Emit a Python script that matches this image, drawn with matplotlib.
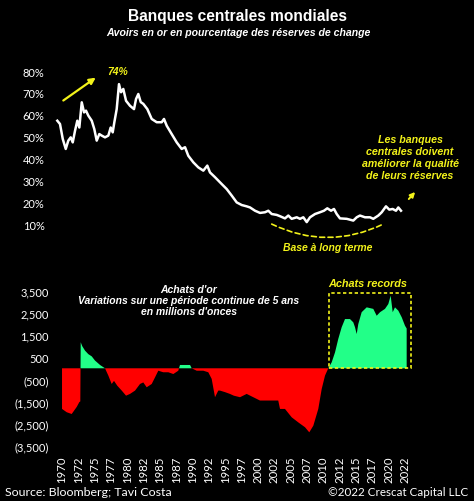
import matplotlib.pyplot as plt
import matplotlib.patches as mpatches

# Avoirs en or en % des réserves de change
gold_years = [1969.28, 1969.69, 1970.11, 1970.57, 1970.96, 1971.33, 1971.64, 1971.99, 1972.34, 1972.65,
              1973.02, 1973.37, 1973.67, 1974.03, 1974.55, 1974.94, 1975.31, 1975.71, 1976.08, 1976.58,
              1977.09, 1977.45, 1977.76, 1978.01, 1978.37, 1978.72, 1979.03, 1979.38, 1979.80, 1980.41,
              1981.02, 1981.33, 1981.68, 1982.05, 1982.44, 1983.06, 1983.73, 1984.50, 1985.26, 1985.61,
              1986.03, 1986.79, 1987.56, 1988.32, 1988.83, 1989.33, 1990.10, 1990.86, 1991.63, 1992.24,
              1992.65, 1993.42, 1994.44, 1995.21, 1995.98, 1996.74, 1997.51, 1998.27, 1998.78, 1999.54,
              2000.31, 2001.07, 2001.58, 2002.10, 2002.86, 2003.37, 2004.13, 2004.64, 2005.16, 2005.93,
              2006.43, 2006.94, 2007.46, 2007.96, 2008.73, 2009.49, 2010.10, 2010.61, 2011.18, 2011.63,
              2012.05, 2012.55, 2013.58, 2014.59, 2015.11, 2015.61, 2016.38, 2017.15, 2017.65, 2018.42,
              2018.94, 2019.59, 2020.10, 2020.62, 2021.12, 2021.48, 2021.89]
gold_pct = [57.3, 55.8, 49.0, 44.4, 48.2, 49.7, 47.4, 52.7, 57.3, 54.2,
            65.7, 61.1, 61.9, 59.6, 57.3, 53.5, 48.2, 51.2, 50.5, 49.7,
            50.5, 54.2, 52.0, 56.6, 62.6, 74.0, 70.3, 71.8, 66.4, 64.1,
            62.6, 67.2, 69.5, 65.8, 65.0, 62.6, 58.1, 56.6, 56.6, 58.1,
            55.0, 51.2, 47.4, 44.4, 45.2, 41.3, 38.3, 36.0, 34.5, 36.8,
            33.7, 31.5, 28.4, 26.1, 23.1, 20.0, 18.8, 18.2, 17.7, 16.2,
            15.2, 15.5, 16.2, 14.7, 14.3, 13.7, 12.7, 14.0, 12.5, 13.2,
            12.5, 13.2, 11.0, 13.2, 14.7, 15.5, 16.2, 17.3, 16.2, 17.0,
            14.7, 12.7, 12.5, 11.7, 13.2, 14.0, 13.2, 13.2, 12.5, 14.0,
            15.5, 18.2, 16.7, 17.0, 16.2, 17.7, 16.2]

# Achats d'or, variation sur 5 ans (millions d'onces)
buy_years = [1970.00, 1970.72, 1971.48, 1972.25, 1972.65, 1972.80, 1972.86, 1973.10, 1973.52, 1974.03,
             1974.55, 1975.05, 1975.82, 1976.58, 1977.09, 1977.60, 1977.96, 1978.46, 1979.14, 1979.80,
             1980.41, 1981.18, 1981.94, 1982.44, 1982.96, 1983.73, 1984.24, 1984.74, 1985.50, 1986.27,
             1987.04, 1987.80, 1988.06, 1989.60, 1989.85, 1990.62, 1991.63, 1992.39, 1992.91, 1993.42,
             1993.92, 1994.18, 1994.95, 1995.70, 1996.30, 1997.25, 1998.27, 1999.28, 2000.30, 2001.84,
             2003.10, 2003.37, 2004.13, 2005.16, 2006.17, 2007.20, 2007.85, 2008.47, 2009.23, 2009.75,
             2010.26, 2010.76, 2011.28, 2011.79, 2012.29, 2012.81, 2013.32, 2014.08, 2014.59, 2014.85,
             2015.11, 2015.35, 2015.87, 2016.64, 2017.65, 2018.17, 2018.68, 2019.44, 2019.95, 2020.31,
             2020.62, 2020.97, 2021.48, 2022.00, 2022.50, 2022.76]
buy_vals = [-1840, -1990, -2070, -1750, -1530, -1500, 1180, 1000, 800, 640,
            540, 350, 150, 0, -330, -710, -570, -790, -1010, -1240,
            -1160, -1010, -710, -640, -860, -710, -410, -110, -180, -180,
            -260, -110, 150, 150, 0, -110, -110, -180, -480, -1310,
            -1010, -1010, -1080, -1160, -1240, -1310, -1160, -1310, -1460, -1460,
            -1460, -1840, -1840, -2220, -2450, -2670, -2900, -2600, -1840, -940,
            -330, 0, 270, 720, 1330, 1860, 2230, 2230, 2080, 1860,
            1550, 2000, 2540, 2760, 2690, 2380, 2540, 2690, 2910, 3290,
            2540, 2760, 2610, 2310, 1930, 1800]

top_ticks = [80, 70, 60, 50, 40, 30, 20, 10]
bottom_ticks = [3500, 2500, 1500, 500, -500, -1500, -2500, -3500]
bottom_labels = ['3,500', '2,500', '1,500', '500', '(500)', '(1,500)', '(2,500)', '(3,500)']
year_ticks = [1970 + 2.5 * i for i in range(22)]

YELLOW = '#f2f21a'
GREEN = '#22ff88'
RED = '#ff0000'
W, H = 474, 502
XLIM = (1968.16, 2024.80)

fig = plt.figure(figsize=(W / 100, H / 100), dpi=100, facecolor='black')

def ax_rect(left, top, right, bottom):
    return [left / W, 1 - bottom / H, (right - left) / W, (bottom - top) / H]

fig.text(238 / W, 1 - 16 / H, 'Banques centrales mondiales', color='white', ha='center', va='center',
         fontsize=11.2, fontweight='bold', family='Liberation Sans')
fig.text(238 / W, 1 - 33 / H, 'Avoirs en or en pourcentage des réserves de change', color='white',
         ha='center', va='center', fontsize=7.6, fontweight='bold', style='italic', family='Liberation Sans')

# graphique du haut
ax1 = fig.add_axes(ax_rect(50, 60, 420, 255), facecolor='black')
ax1.plot(gold_years, gold_pct, color='white', lw=1.8)
ax1.set_xlim(*XLIM)
ax1.set_ylim(-3.56, 85.48)
ax1.set_xticks([])
ax1.set_yticks(top_ticks)
ax1.set_yticklabels([f'{t}%' for t in top_ticks], color='white', fontsize=8, family='Lato')
ax1.tick_params(axis='y', length=0, pad=4)
for s in ax1.spines.values():
    s.set_visible(False)

ann = dict(color=YELLOW, fontweight='bold', style='italic', family='Liberation Sans')
ax1.text(1978.57, 80, '74%', ha='center', va='center', fontsize=7.5, **ann)
ax1.annotate('', xy=(1975.51, 77.7), xytext=(1969.85, 65.8),
             arrowprops=dict(arrowstyle='-|>', color=YELLOW, lw=1.6, mutation_scale=9))
ax1.text(2023.27, 40.7, 'Les banques\ncentrales doivent\naméliorer la qualité\nde leurs réserves',
         ha='center', va='center', fontsize=7.7, linespacing=1.22, **ann)
ax1.annotate('', xy=(2024.34, 25.7), xytext=(2022.8, 20.6),
             arrowprops=dict(arrowstyle='-|>', color=YELLOW, lw=1.4, mutation_scale=7))
ax1.annotate('', xy=(2019.18, 10.1), xytext=(2002.1, 10.1),
             arrowprops=dict(arrowstyle='-', color=YELLOW, lw=1.2, linestyle=(0, (3, 2)),
                             connectionstyle='arc3,rad=0.24', shrinkA=0, shrinkB=0))
ax1.text(2010.72, -0.37, 'Base à long terme', ha='center', va='center', fontsize=7.5, **ann)

# graphique du bas
ax2 = fig.add_axes(ax_rect(50, 280, 420, 455), facecolor='black')
ax2.fill_between(buy_years, buy_vals, 0, where=[v >= 0 for v in buy_vals], interpolate=True,
                 color=GREEN, lw=0)
ax2.fill_between(buy_years, buy_vals, 0, where=[v <= 0 for v in buy_vals], interpolate=True,
                 color=RED, lw=0)
ax2.set_xlim(*XLIM)
ax2.set_ylim(-3881, 4043)
ax2.set_yticks(bottom_ticks)
ax2.set_yticklabels(bottom_labels, color='white', fontsize=8, family='Lato')
ax2.set_xticks(year_ticks)
ax2.set_xticklabels([str(int(y)) for y in year_ticks], rotation=90, color='white', fontsize=8.2,
                    family='Lato')
ax2.tick_params(length=0, pad=1)
for s in ax2.spines.values():
    s.set_visible(False)

ax2.add_patch(mpatches.Rectangle((2010.91, 0), 2023.37 - 2010.91, 3390, fill=False,
                                 edgecolor=YELLOW, lw=1.2, linestyle=(0, (2, 1.5))))
ax2.text(2016.84, 3862, 'Achats records', ha='center', va='center', fontsize=7.8, **ann)
ax2.text(1989.44, 3093, "Achats d'or\nVariations sur une période continue de 5 ans\nen millions d'onces",
         ha='center', va='center', fontsize=7.45, color='white', fontweight='bold', style='italic',
         family='Liberation Sans', linespacing=1.12)

fig.text(5 / W, 1 - 493 / H, 'Source: Bloomberg; Tavi Costa', color='white', ha='left', va='center',
         fontsize=8.9, family='Lato')
fig.text(468 / W, 1 - 493 / H, '©2022 Crescat Capital LLC', color='white', ha='right', va='center',
         fontsize=8.4, family='Lato')

fig.savefig('out.png', dpi=100, facecolor='black')
